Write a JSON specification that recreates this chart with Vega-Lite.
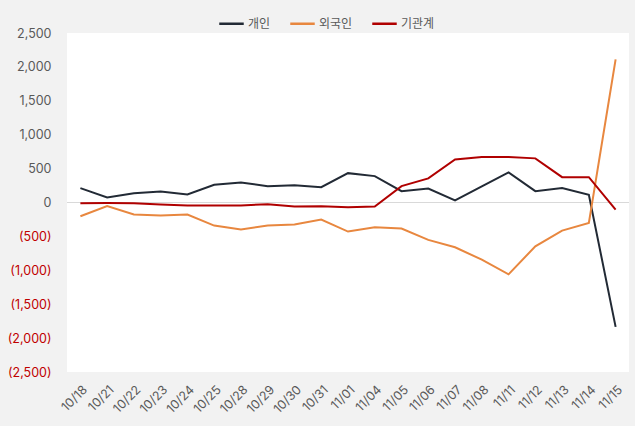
{
  "$schema": "https://vega.github.io/schema/vega-lite/v6.json",
  "width": 562,
  "height": 339,
  "autosize": {"type": "none"},
  "padding": {"left": 67, "top": 33, "right": 6, "bottom": 54},
  "background": "#f2f2f2",
  "view": {"fill": "white", "stroke": null},
  "config": {"font": "Inter, Noto Sans CJK KR", "axis": {"labelOverlap": false}},
  "data": {"values": [
    {"date": "10/18", "series": "개인", "value": 212},
    {"date": "10/21", "series": "개인", "value": 74},
    {"date": "10/22", "series": "개인", "value": 138},
    {"date": "10/23", "series": "개인", "value": 163},
    {"date": "10/24", "series": "개인", "value": 118},
    {"date": "10/25", "series": "개인", "value": 262},
    {"date": "10/28", "series": "개인", "value": 296},
    {"date": "10/29", "series": "개인", "value": 241},
    {"date": "10/30", "series": "개인", "value": 256},
    {"date": "10/31", "series": "개인", "value": 226},
    {"date": "11/01", "series": "개인", "value": 433},
    {"date": "11/04", "series": "개인", "value": 389},
    {"date": "11/05", "series": "개인", "value": 167},
    {"date": "11/06", "series": "개인", "value": 207},
    {"date": "11/07", "series": "개인", "value": 30},
    {"date": "11/08", "series": "개인", "value": 237},
    {"date": "11/11", "series": "개인", "value": 444},
    {"date": "11/12", "series": "개인", "value": 167},
    {"date": "11/13", "series": "개인", "value": 212},
    {"date": "11/14", "series": "개인", "value": 114},
    {"date": "11/15", "series": "개인", "value": -1834},
    {"date": "10/18", "series": "외국인", "value": -202},
    {"date": "10/21", "series": "외국인", "value": -54},
    {"date": "10/22", "series": "외국인", "value": -177},
    {"date": "10/23", "series": "외국인", "value": -192},
    {"date": "10/24", "series": "외국인", "value": -177},
    {"date": "10/25", "series": "외국인", "value": -340},
    {"date": "10/28", "series": "외국인", "value": -399},
    {"date": "10/29", "series": "외국인", "value": -340},
    {"date": "10/30", "series": "외국인", "value": -325},
    {"date": "10/31", "series": "외국인", "value": -251},
    {"date": "11/01", "series": "외국인", "value": -429},
    {"date": "11/04", "series": "외국인", "value": -365},
    {"date": "11/05", "series": "외국인", "value": -385},
    {"date": "11/06", "series": "외국인", "value": -552},
    {"date": "11/07", "series": "외국인", "value": -661},
    {"date": "11/08", "series": "외국인", "value": -843},
    {"date": "11/11", "series": "외국인", "value": -1060},
    {"date": "11/12", "series": "외국인", "value": -646},
    {"date": "11/13", "series": "외국인", "value": -414},
    {"date": "11/14", "series": "외국인", "value": -301},
    {"date": "11/15", "series": "외국인", "value": 2110},
    {"date": "10/18", "series": "기관계", "value": -10},
    {"date": "10/21", "series": "기관계", "value": -8},
    {"date": "10/22", "series": "기관계", "value": -12},
    {"date": "10/23", "series": "기관계", "value": -30},
    {"date": "10/24", "series": "기관계", "value": -44},
    {"date": "10/25", "series": "기관계", "value": -44},
    {"date": "10/28", "series": "기관계", "value": -44},
    {"date": "10/29", "series": "기관계", "value": -25},
    {"date": "10/30", "series": "기관계", "value": -59},
    {"date": "10/31", "series": "기관계", "value": -55},
    {"date": "11/01", "series": "기관계", "value": -70},
    {"date": "11/04", "series": "기관계", "value": -59},
    {"date": "11/05", "series": "기관계", "value": 241},
    {"date": "11/06", "series": "기관계", "value": 355},
    {"date": "11/07", "series": "기관계", "value": 636},
    {"date": "11/08", "series": "기관계", "value": 670},
    {"date": "11/11", "series": "기관계", "value": 670},
    {"date": "11/12", "series": "기관계", "value": 651},
    {"date": "11/13", "series": "기관계", "value": 374},
    {"date": "11/14", "series": "기관계", "value": 374},
    {"date": "11/15", "series": "기관계", "value": -104}
  ]},
  "layer": [
    {
      "mark": {"type": "rule", "color": "#d9d9d9", "strokeWidth": 1},
      "encoding": {"y": {"datum": 0, "type": "quantitative", "scale": {"domain": [-2500, 2500], "nice": false},
        "axis": {
            "title": null, "values": [-2500, -2000, -1500, -1000, -500, 0, 500, 1000, 1500, 2000, 2500],
            "labelOverlap": false,
            "grid": false, "domain": false, "ticks": false, "labelPadding": 16, "labelFontSize": 12.5,
            "labelExpr": "datum.value < 0 ? '(' + format(-datum.value, ',') + ')' : format(datum.value, ',')",
            "labelColor": {"condition": {"test": "datum.value < 0", "value": "#c00000"}, "value": "#595959"}
          }}}
    },
    {
      "mark": {"type": "line", "strokeWidth": 2},
      "encoding": {
        "x": {
          "field": "date", "type": "ordinal", "sort": null,
          "scale": {"type": "point", "padding": 0.5},
          "axis": {"title": null, "labelAngle": -45, "labelOverlap": false, "domain": false, "ticks": false, "labelColor": "#595959", "labelFontSize": 12.5, "labelPadding": 11}
        },
        "y": {
          "field": "value", "type": "quantitative",
          "scale": {"domain": [-2500, 2500], "nice": false},
          "axis": {
            "title": null, "values": [-2500, -2000, -1500, -1000, -500, 0, 500, 1000, 1500, 2000, 2500],
            "labelOverlap": false,
            "grid": false, "domain": false, "ticks": false, "labelPadding": 16, "labelFontSize": 12.5,
            "labelExpr": "datum.value < 0 ? '(' + format(-datum.value, ',') + ')' : format(datum.value, ',')",
            "labelColor": {"condition": {"test": "datum.value < 0", "value": "#c00000"}, "value": "#595959"}
          }
        },
        "color": {
          "field": "series", "type": "nominal",
          "scale": {"domain": ["개인", "외국인", "기관계"], "range": ["#222a35", "#e8873f", "#b00000"]},
          "legend": {
            "title": null, "orient": "none", "direction": "horizontal", "legendX": 151, "legendY": -23,
            "symbolType": "stroke", "symbolSize": 600, "symbolStrokeWidth": 2.5,
            "labelFontSize": 12, "labelColor": "#595959", "columnPadding": 14, "labelOffset": 3
          }
        }
      }
    }
  ]
}
